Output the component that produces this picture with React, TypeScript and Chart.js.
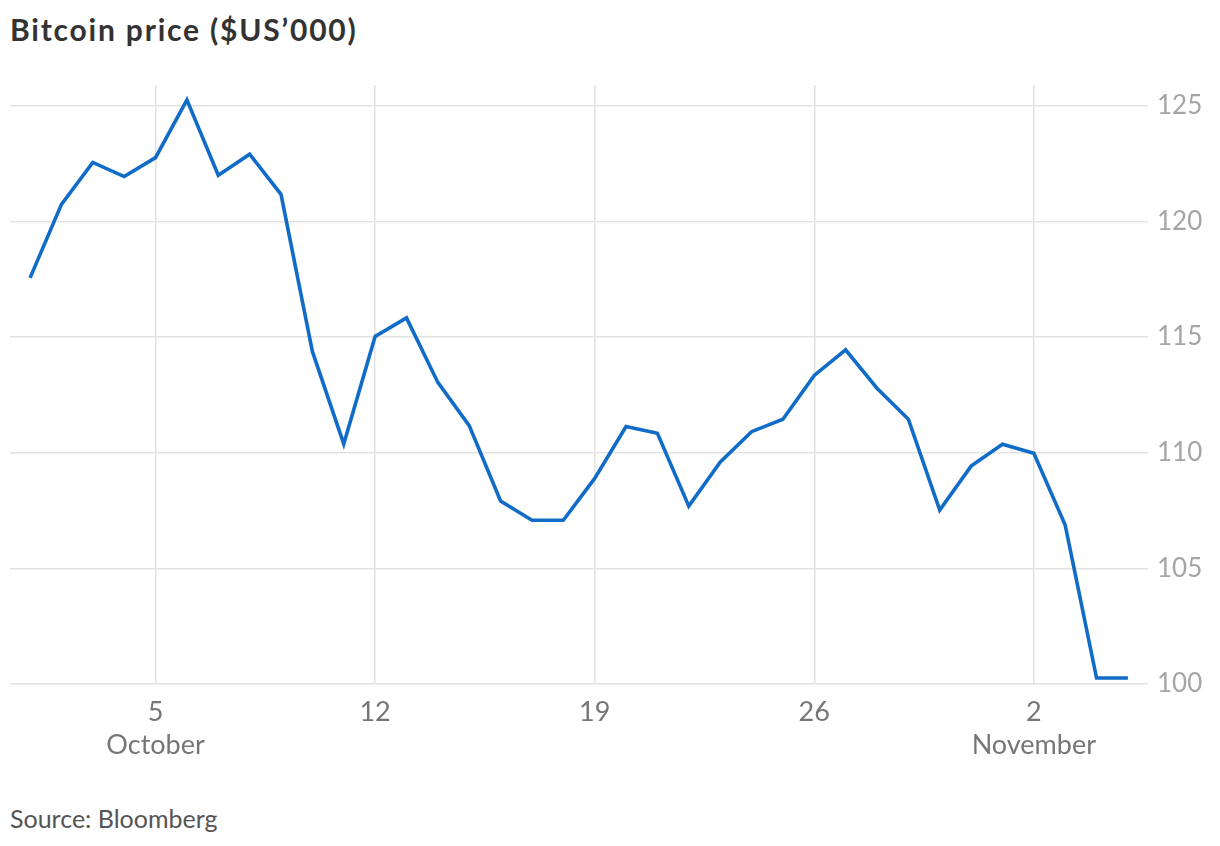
import { useEffect, useRef } from 'react';
import { Chart, registerables } from 'chart.js';

Chart.register(...registerables);

const dates = [
  '2025-10-01', '2025-10-02', '2025-10-03', '2025-10-04', '2025-10-05', '2025-10-06',
  '2025-10-07', '2025-10-08', '2025-10-09', '2025-10-10', '2025-10-11', '2025-10-12',
  '2025-10-13', '2025-10-14', '2025-10-15', '2025-10-16', '2025-10-17', '2025-10-18',
  '2025-10-19', '2025-10-20', '2025-10-21', '2025-10-22', '2025-10-23', '2025-10-24',
  '2025-10-25', '2025-10-26', '2025-10-27', '2025-10-28', '2025-10-29', '2025-10-30',
  '2025-10-31', '2025-11-01', '2025-11-02', '2025-11-03', '2025-11-04', '2025-11-05',
];

// price in $US'000
const prices = [
  117.56, 120.74, 122.55, 121.94, 122.76, 125.26,
  122.0, 122.91, 121.17, 114.38, 110.38, 115.03,
  115.83, 113.04, 111.17, 107.91, 107.08, 107.08,
  108.89, 111.13, 110.84, 107.69, 109.59, 110.91,
  111.45, 113.34, 114.45, 112.79, 111.45, 107.52,
  109.42, 110.37, 109.98, 106.87, 100.26, 100.26,
];

const tickDates = ['2025-10-05', '2025-10-12', '2025-10-19', '2025-10-26', '2025-11-02'];
const tickLabels: (string | string[])[] = [['5', 'October'], '12', '19', '26', ['2', 'November']];
const yTicks = [100, 105, 110, 115, 120, 125];

const FONT = 'Lato, "Noto Sans", sans-serif';

function PriceChart() {
  const canvasRef = useRef<HTMLCanvasElement>(null);
  const chartRef = useRef<Chart | null>(null);

  useEffect(() => {
    if (!canvasRef.current) return;
    chartRef.current?.destroy();

    const tickPos = tickDates.map((d) => dates.indexOf(d));

    chartRef.current = new Chart(canvasRef.current, {
      type: 'line',
      data: {
        datasets: [
          {
            label: 'Bitcoin',
            data: prices.map((p, i) => ({ x: i, y: p })),
            borderColor: '#116cc8',
            borderWidth: 3.6,
            pointRadius: 0,
            tension: 0,
            fill: false,
          },
        ],
      },
      options: {
        animation: false,
        responsive: true,
        maintainAspectRatio: false,
        layout: { padding: { top: 25, left: 10, right: 0, bottom: 0 } },
        plugins: {
          legend: { display: false },
          tooltip: { enabled: false },
        },
        scales: {
          x: {
            type: 'linear',
            min: -0.64,
            max: dates.length - 1 + 0.64,
            afterBuildTicks: (scale: any) => {
              scale.ticks = tickPos.map((v) => ({ value: v }));
            },
            afterFit: (scale: any) => {
              scale.height = 96;
            },
            grid: { color: '#e3e3e3', lineWidth: 1.5, drawTicks: false },
            border: { display: false },
            ticks: {
              padding: 11,
              color: '#767676',
              font: { family: FONT, size: 27, lineHeight: 1.25 },
              maxRotation: 0,
              autoSkip: false,
              callback: (value: any) => {
                const idx = tickPos.indexOf(Number(value));
                return idx >= 0 ? tickLabels[idx] : '';
              },
            },
          },
          y: {
            position: 'right',
            min: 100,
            max: 125.9,
            afterBuildTicks: (scale: any) => {
              scale.ticks = yTicks.map((v) => ({ value: v }));
            },
            afterFit: (scale: any) => {
              scale.width = 72;
            },
            grid: { color: '#e3e3e3', lineWidth: 1.5, drawTicks: false },
            border: { display: false },
            ticks: {
              padding: 9,
              color: '#a5a5a5',
              font: { family: FONT, size: 26 },
            },
          },
        },
      },
    });

    return () => {
      chartRef.current?.destroy();
      chartRef.current = null;
    };
  }, []);

  return (
    <div style={{ position: 'absolute', left: 0, top: 60, width: 1220, height: 720 }}>
      <canvas ref={canvasRef} />
    </div>
  );
}

export default function App() {
  useEffect(() => {
    document.body.style.margin = '0';
  }, []);

  return (
    <div style={{ position: 'relative', width: 1220, height: 846, background: '#fff', fontFamily: FONT }}>
      <div
        style={{
          position: 'absolute',
          left: 10,
          top: 11,
          fontSize: 30,
          fontWeight: 700,
          letterSpacing: 1.8,
          color: '#333',
          whiteSpace: 'nowrap',
        }}
      >
        Bitcoin price ($US’000)
      </div>
      <PriceChart />
      <div
        style={{
          position: 'absolute',
          left: 10,
          top: 803,
          fontSize: 25,
          color: '#555',
          whiteSpace: 'nowrap',
        }}
      >
        Source: Bloomberg
      </div>
    </div>
  );
}
